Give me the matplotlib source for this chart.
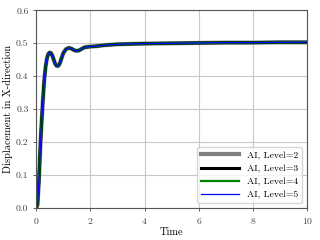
import matplotlib
matplotlib.use("Agg")
import matplotlib.pyplot as plt

plt.rcParams['font.family'] = 'serif'
plt.rcParams['font.serif'] = ['cmr10', 'DejaVu Serif']
plt.rcParams['mathtext.fontset'] = 'cm'
plt.rcParams['axes.formatter.use_mathtext'] = True

time = [0, 0.05, 0.1, 0.15, 0.2, 0.25, 0.3, 0.35, 0.4, 0.45, 0.5, 0.55, 0.6,
        0.65, 0.7, 0.75, 0.8, 0.85, 0.9, 0.95, 1.0, 1.1, 1.2, 1.3, 1.4, 1.5,
        1.6, 1.7, 1.8, 1.9, 2.0, 2.2, 2.5, 3, 4, 5, 6, 7, 8, 9, 10]
disp = [0, 0.01, 0.08, 0.18, 0.26, 0.33, 0.39, 0.43, 0.455, 0.468, 0.472,
        0.47, 0.462, 0.45, 0.438, 0.432, 0.431, 0.435, 0.445, 0.458, 0.47,
        0.482, 0.486, 0.484, 0.479, 0.477, 0.479, 0.484, 0.488, 0.489, 0.49,
        0.491, 0.494, 0.497, 0.499, 0.5, 0.501, 0.502, 0.502, 0.503, 0.503]

levels = [2, 3, 4, 5]
colors = ['grey', 'black', 'green', 'blue']
widths = [3, 2.2, 1.6, 0.9]

fig, ax = plt.subplots(figsize=(3.2, 2.4), dpi=100)
for lev, c, w in zip(levels, colors, widths):
    ax.plot(time, disp, color=c, lw=w, label=f"AI, Level={lev}")

ax.set_xlim(0, 10)
ax.set_ylim(0, 0.6)
ax.set_xticks([0, 2, 4, 6, 8, 10])
ax.set_yticks([0, 0.1, 0.2, 0.3, 0.4, 0.5, 0.6])
ax.set_yticklabels(["0.0", "0.1", "0.2", "0.3", "0.4", "0.5", "0.6"])
ax.grid(color='#c8c8c8', lw=0.8)
ax.tick_params(labelsize=7, length=2, width=0.6, colors='#444444')
for s in ax.spines.values():
    s.set_color('#555555')
ax.set_xlabel("Time", fontsize=7.5, labelpad=1)
ax.set_ylabel("Displacement in X-direction", fontsize=7.5, labelpad=2)
ax.legend(loc='lower right', fontsize=7, handlelength=4, labelspacing=0.45)

fig.subplots_adjust(left=0.113, right=0.96, top=0.957, bottom=0.133)
fig.savefig("out.png", dpi=100)
